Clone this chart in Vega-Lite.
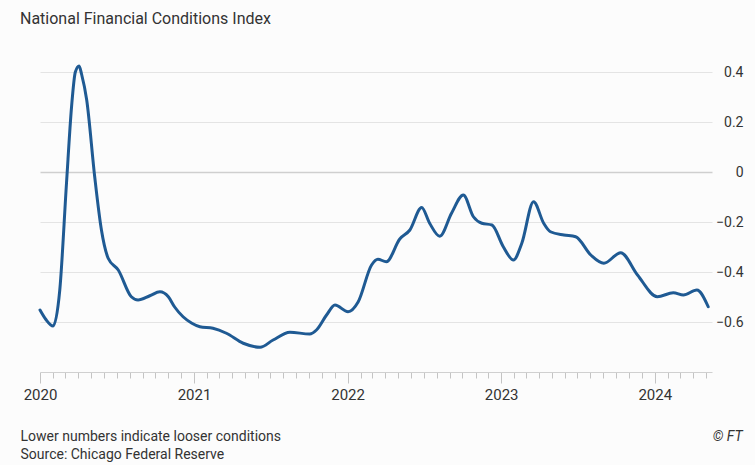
{
  "$schema": "https://vega.github.io/schema/vega-lite/v6.json",
  "autosize": "none",
  "width": 672,
  "height": 325,
  "padding": {"left": 40, "top": 47, "right": 43, "bottom": 93},
  "background": "#fcfcfc",
  "config": {
    "view": {"stroke": null},
    "font": "Roboto"
  },
  "title": {
    "text": "National Financial Conditions Index",
    "anchor": "start",
    "frame": "group",
    "dx": -20,
    "offset": 7,
    "baseline": "alphabetic",
    "fontSize": 16,
    "fontWeight": "normal",
    "color": "#333333",
    "font": "Roboto"
  },
  "data": {
    "values": [
      {"date": "2020-01-01", "value": -0.552},
      {"date": "2020-01-15", "value": -0.590},
      {"date": "2020-02-01", "value": -0.616},
      {"date": "2020-02-17", "value": -0.472},
      {"date": "2020-03-04", "value": -0.044},
      {"date": "2020-03-16", "value": 0.261},
      {"date": "2020-03-25", "value": 0.400},
      {"date": "2020-04-03", "value": 0.424},
      {"date": "2020-04-09", "value": 0.390},
      {"date": "2020-04-21", "value": 0.288},
      {"date": "2020-05-10", "value": -0.019},
      {"date": "2020-05-26", "value": -0.232},
      {"date": "2020-06-11", "value": -0.345},
      {"date": "2020-07-05", "value": -0.392},
      {"date": "2020-08-05", "value": -0.499},
      {"date": "2020-08-21", "value": -0.512},
      {"date": "2020-09-18", "value": -0.495},
      {"date": "2020-10-12", "value": -0.479},
      {"date": "2020-11-01", "value": -0.499},
      {"date": "2020-11-16", "value": -0.540},
      {"date": "2020-12-06", "value": -0.579},
      {"date": "2020-12-27", "value": -0.605},
      {"date": "2021-01-15", "value": -0.619},
      {"date": "2021-02-15", "value": -0.625},
      {"date": "2021-03-19", "value": -0.645},
      {"date": "2021-04-28", "value": -0.685},
      {"date": "2021-06-07", "value": -0.701},
      {"date": "2021-07-08", "value": -0.672},
      {"date": "2021-08-17", "value": -0.641},
      {"date": "2021-10-03", "value": -0.648},
      {"date": "2021-10-19", "value": -0.632},
      {"date": "2021-11-12", "value": -0.572},
      {"date": "2021-12-02", "value": -0.532},
      {"date": "2022-01-02", "value": -0.559},
      {"date": "2022-01-26", "value": -0.520},
      {"date": "2022-02-27", "value": -0.372},
      {"date": "2022-03-14", "value": -0.349},
      {"date": "2022-04-03", "value": -0.359},
      {"date": "2022-05-05", "value": -0.268},
      {"date": "2022-05-29", "value": -0.232},
      {"date": "2022-06-26", "value": -0.142},
      {"date": "2022-07-15", "value": -0.205},
      {"date": "2022-08-08", "value": -0.257},
      {"date": "2022-09-05", "value": -0.165},
      {"date": "2022-10-03", "value": -0.092},
      {"date": "2022-10-27", "value": -0.179},
      {"date": "2022-11-16", "value": -0.205},
      {"date": "2022-12-10", "value": -0.212},
      {"date": "2023-01-06", "value": -0.299},
      {"date": "2023-01-30", "value": -0.352},
      {"date": "2023-02-19", "value": -0.285},
      {"date": "2023-03-19", "value": -0.119},
      {"date": "2023-04-12", "value": -0.205},
      {"date": "2023-04-28", "value": -0.239},
      {"date": "2023-05-30", "value": -0.252},
      {"date": "2023-06-27", "value": -0.259},
      {"date": "2023-08-02", "value": -0.332},
      {"date": "2023-09-02", "value": -0.365},
      {"date": "2023-10-12", "value": -0.323},
      {"date": "2023-11-21", "value": -0.412},
      {"date": "2024-01-07", "value": -0.499},
      {"date": "2024-02-14", "value": -0.483},
      {"date": "2024-03-09", "value": -0.492},
      {"date": "2024-04-10", "value": -0.472},
      {"date": "2024-05-07", "value": -0.539}
    ]
  },
  "mark": {
    "type": "line",
    "interpolate": "monotone",
    "strokeWidth": 3,
    "color": "#1f5a93",
    "strokeCap": "round",
    "strokeJoin": "round"
  },
  "encoding": {
    "x": {
      "field": "date",
      "type": "temporal",
      "scale": {"domain": ["2020-01-01T00:00:00", "2024-05-16T00:00:00"]},
      "axis": {
        "title": ["Lower numbers indicate looser conditions", "Source: Chicago Federal Reserve"],
        "titleAnchor": "start",
        "titleAlign": "left",
        "titleBaseline": "alphabetic",
        "titleX": -20,
        "titleY": 68,
        "titleLineHeight": 18,
        "titleFontSize": 14,
        "titleFontWeight": "normal",
        "titleColor": "#333333",
        "titleFont": "Roboto",
        "grid": false,
        "domainColor": "#d0d0d0",
        "domainWidth": 1,
        "tickCount": {"interval": "month", "step": 1},
        "tickColor": "#c4c4c4",
        "tickSize": {"condition": {"test": "month(datum.value) == 0", "value": 11}, "value": 6},
        "labelExpr": "month(datum.value) == 0 ? timeFormat(datum.value, '%Y') : ''",
        "labelOverlap": false,
        "labelFlush": false,
        "labelPadding": 4,
        "labelFontSize": 15,
        "labelColor": "#333333",
        "labelFont": "Roboto"
      }
    },
    "y": {
      "field": "value",
      "type": "quantitative",
      "scale": {"domain": [-0.8, 0.5], "nice": false, "zero": false},
      "axis": {
        "orient": "right",
        "values": [-0.6, -0.4, -0.2, 0, 0.2, 0.4],
        "labelExpr": "datum.value == 0 ? '0' : format(datum.value, '.1f')",
        "title": "© FT",
        "titleAngle": 0,
        "titleX": 30,
        "titleY": 393,
        "titleAlign": "right",
        "titleBaseline": "alphabetic",
        "titleFontStyle": "italic",
        "titleFontWeight": "normal",
        "titleFontSize": 14,
        "titleColor": "#333333",
        "titleFont": "Roboto",
        "domain": false,
        "ticks": false,
        "labelAlign": "right",
        "labelPadding": 31,
        "labelFontSize": 14,
        "labelColor": "#333333",
        "labelFont": "Roboto",
        "grid": true,
        "gridColor": {"condition": {"test": "datum.value == 0", "value": "#cfcfcf"}, "value": "#e4e4e4"},
        "gridWidth": {"condition": {"test": "datum.value == 0", "value": 1.5}, "value": 1}
      }
    }
  }
}
